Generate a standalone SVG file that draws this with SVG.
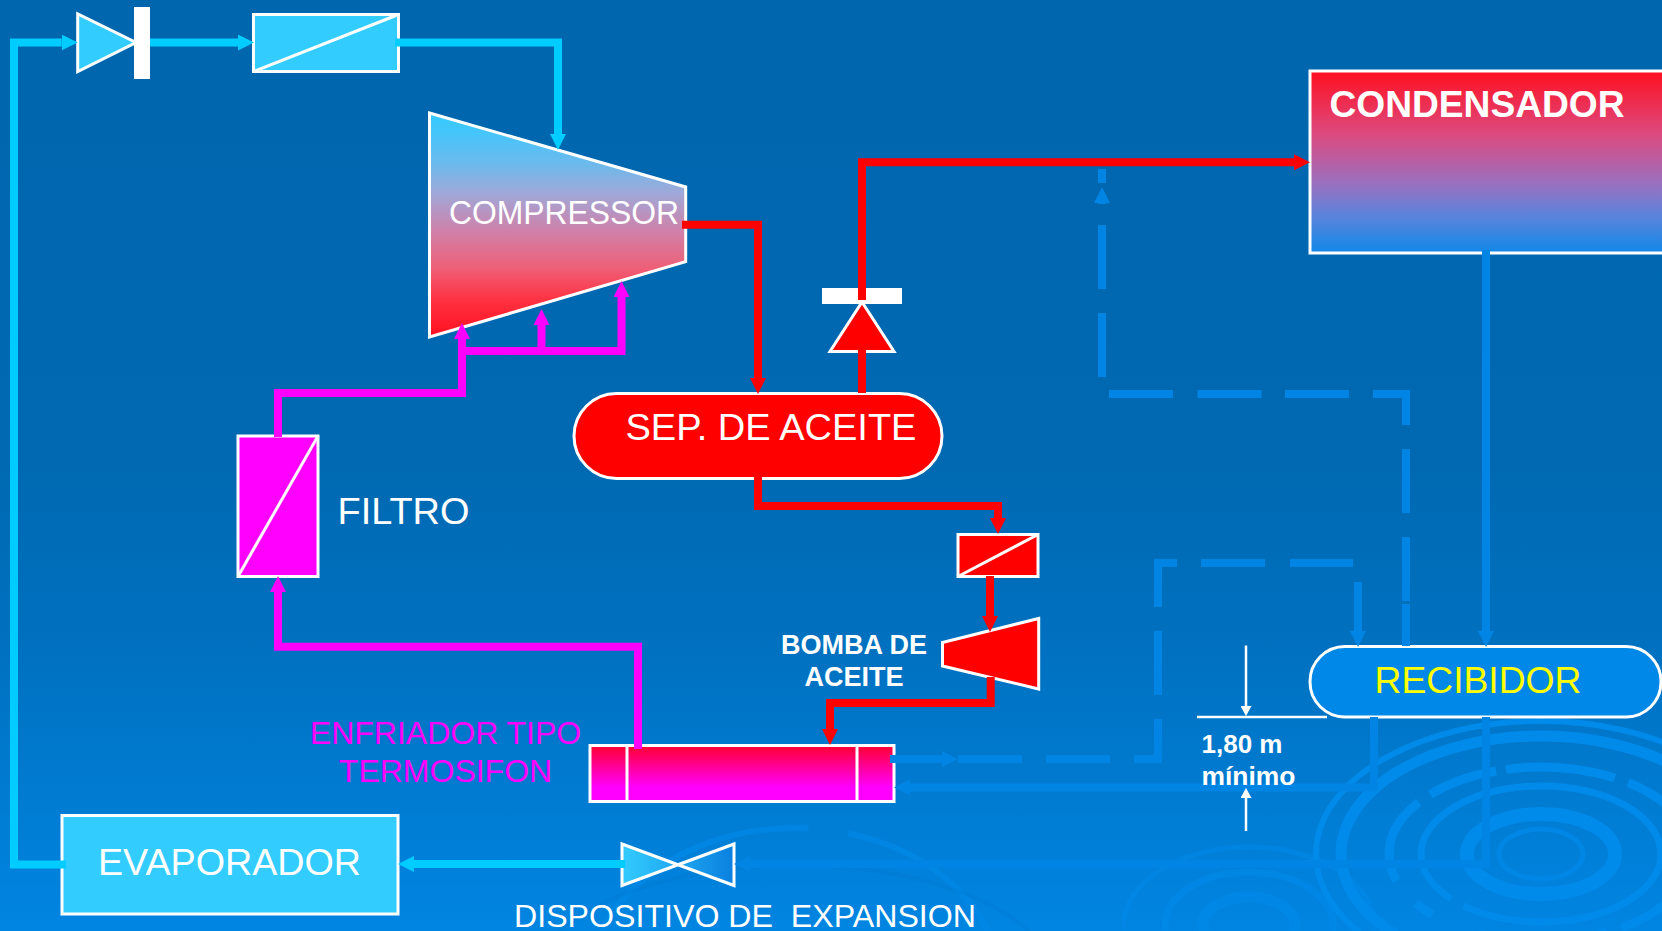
<svg xmlns="http://www.w3.org/2000/svg" width="1662" height="931" viewBox="0 0 1662 931">
<style>
text{font-family:"Liberation Sans",Arial,sans-serif;fill:#fff}
.b{font-weight:bold}
.n{stroke:#fff;stroke-width:3}
.bar{fill:#fff}
.p{fill:none;stroke-width:8;stroke-linejoin:miter}
.cy{stroke:#0cf}.rd{stroke:#f00}.mg{stroke:#f0f}.bl{stroke:#0085e5}
.cyf{fill:#3cf}
.r{fill:none;stroke:#008ae9}
.dim{fill:none;stroke:#fff;stroke-width:2.5}
</style>
<defs>
<linearGradient id="bg" x1="0" y1="0" x2="0" y2="1"><stop offset="0" stop-color="#0066ae"/><stop offset=".5" stop-color="#0069b2"/><stop offset=".7" stop-color="#0071c0"/><stop offset="1" stop-color="#0085e2"/></linearGradient>
<linearGradient id="gc" x1="0" y1="0" x2="0" y2="1"><stop offset="0" stop-color="#3cf"/><stop offset=".1" stop-color="#48c4fa"/><stop offset=".24" stop-color="#70b8ea"/><stop offset=".36" stop-color="#a0a8d8"/><stop offset=".53" stop-color="#d080a8"/><stop offset=".69" stop-color="#ee6078"/><stop offset=".84" stop-color="#ff3040"/><stop offset="1" stop-color="#ff1020"/></linearGradient>
<linearGradient id="gk" x1="0" y1="0" x2="0" y2="1"><stop offset="0" stop-color="#ff1020"/><stop offset=".35" stop-color="#dc4a80"/><stop offset=".62" stop-color="#9a70c0"/><stop offset=".8" stop-color="#5a84dc"/><stop offset="1" stop-color="#1088e8"/></linearGradient>
<linearGradient id="ge" x1="0" y1="0" x2="0" y2="1"><stop offset="0" stop-color="#ff0030"/><stop offset=".75" stop-color="#f0f"/><stop offset="1" stop-color="#f0f"/></linearGradient>
<linearGradient id="gv" x1="0" y1="0" x2="1" y2="0"><stop offset="0" stop-color="#3cf"/><stop offset="1" stop-color="#0a80e0"/></linearGradient>
<marker id="hc" markerUnits="userSpaceOnUse" markerWidth="16" markerHeight="16" refX="0" refY="8" orient="auto"><path d="M0 0L16 8L0 16z" fill="#0cf"/></marker>
<marker id="hr" markerUnits="userSpaceOnUse" markerWidth="16" markerHeight="16" refX="0" refY="8" orient="auto"><path d="M0 0L16 8L0 16z" fill="#f00"/></marker>
<marker id="hm" markerUnits="userSpaceOnUse" markerWidth="16" markerHeight="16" refX="0" refY="8" orient="auto"><path d="M0 0L16 8L0 16z" fill="#f0f"/></marker>
<marker id="hb" markerUnits="userSpaceOnUse" markerWidth="16" markerHeight="16" refX="0" refY="8" orient="auto"><path d="M0 0L16 8L0 16z" fill="#0085e5"/></marker>
<marker id="hw" markerUnits="userSpaceOnUse" markerWidth="10" markerHeight="11" refX="0" refY="5.5" orient="auto"><path d="M0 0L10 5.500L0 11z" fill="#fff"/></marker>
</defs>
<g id="background">
<rect width="1662" height="931" fill="url(#bg)"/>
<g id="ripples-right">
<ellipse class="r" cx="1541" cy="854" rx="74" ry="40" stroke-width="14"/>
<ellipse class="r" cx="1541" cy="854" rx="42" ry="25" stroke-width="5" opacity=".7"/>
<ellipse class="r" cx="1541" cy="854" rx="120" ry="68" stroke-width="7" stroke-dasharray="230 14 420 20 400 0"/>
<ellipse class="r" cx="1541" cy="854" rx="152" ry="87" stroke-width="9" stroke-dasharray="110 14 130 50 20 30 90 14 70 10"/>
<ellipse class="r" cx="1541" cy="854" rx="200" ry="118" stroke-width="11"/>
<ellipse class="r" cx="1541" cy="854" rx="225" ry="133" stroke-width="6"/>
</g>
<g id="ripples-mid" opacity=".7">
<ellipse class="r" cx="1249" cy="925" rx="46" ry="28" stroke-width="11"/>
<ellipse class="r" cx="1249" cy="925" rx="84" ry="53" stroke-width="7"/>
<ellipse class="r" cx="1249" cy="925" rx="125" ry="78" stroke-width="5" opacity=".8"/>
</g>
<g id="ripples-left" opacity=".65">
<ellipse class="r" cx="795" cy="985" rx="265" ry="175" stroke-width="5" stroke-dasharray="560 1300"/>
<ellipse class="r" cx="795" cy="985" rx="205" ry="157" stroke-width="6" stroke-dasharray="300 40 200 30"/>
<ellipse cx="795" cy="985" rx="262" ry="120" fill="none" stroke="#0078cf" stroke-width="4" opacity=".4"/>
</g>
</g>
<g id="check-valve-suction">
<path class="n cyf" d="M77.700 14V71.500L136 42.500z"/>
<rect class="bar" x="134" y="7" width="16" height="72"/>
</g>
<g id="filter-suction">
<rect class="n cyf" x="253.500" y="14.500" width="145" height="57"/>
<path class="n" d="M253.500 71.500L398.500 14.500"/>
</g>
<g id="compressor">
<path class="n" fill="url(#gc)" d="M429.500 113L685.700 187V261.700L429.500 337z"/>
<text x="449" y="224" font-size="33" textLength="230" lengthAdjust="spacingAndGlyphs">COMPRESSOR</text>
</g>
<g id="condensador">
<rect class="n" fill="url(#gk)" x="1310" y="71" width="356" height="182"/>
<text class="b" x="1329.500" y="116.500" font-size="37" textLength="295" lengthAdjust="spacingAndGlyphs">CONDENSADOR</text>
</g>
<g id="check-valve-discharge">
<path class="n" fill="#f00" d="M862 302L894 351.500H830z"/>
<rect class="bar" x="822" y="288" width="80" height="16"/>
</g>
<g id="separador">
<rect class="n" fill="#f00" x="574" y="393.500" width="368" height="85" rx="42.500"/>
<text x="625.500" y="439.500" font-size="37" textLength="291" lengthAdjust="spacingAndGlyphs">SEP. DE ACEITE</text>
</g>
<g id="filter-oil">
<rect class="n" fill="#f00" x="958" y="534.500" width="80" height="42"/>
<path class="n" d="M958 576.500L1038 534.500"/>
</g>
<g id="bomba">
<path class="n" fill="#f00" d="M942.500 642.500L1038.700 618.500V689L942.500 666z"/>
<text class="b" x="854" y="654" font-size="27" text-anchor="middle">BOMBA DE</text>
<text class="b" x="854" y="686" font-size="27" text-anchor="middle">ACEITE</text>
</g>
<g id="filtro">
<rect class="n" fill="#f0f" x="238" y="436" width="80" height="140.500"/>
<path class="n" d="M238 576.500L318 436"/>
<text x="337.500" y="523.500" font-size="37" textLength="132" lengthAdjust="spacingAndGlyphs">FILTRO</text>
</g>
<g id="enfriador">
<rect class="n" fill="url(#ge)" x="590" y="745.500" width="304" height="56"/>
<path class="n" d="M627 745.500V801.500M857 745.500V801.500"/>
<text x="445.500" y="744" font-size="32" text-anchor="middle" style="fill:#f0f">ENFRIADOR TIPO</text>
<text x="445.500" y="782" font-size="32" text-anchor="middle" style="fill:#f0f">TERMOSIFON</text>
</g>
<g id="evaporador">
<rect class="n cyf" x="62" y="815.500" width="336" height="98.500"/>
<text x="98" y="875" font-size="37" textLength="263" lengthAdjust="spacingAndGlyphs">EVAPORADOR</text>
</g>
<g id="dispositivo">
<path class="n" fill="url(#gv)" d="M622 844L734 885.500V844L622 885.500z"/>
<text x="514" y="927" font-size="31" xml:space="preserve" textLength="462" lengthAdjust="spacingAndGlyphs">DISPOSITIVO DE  EXPANSION</text>
</g>
<g id="recibidor">
<rect class="n" fill="#0088e8" x="1310" y="646.500" width="351" height="70.500" rx="35"/>
<text x="1374.500" y="693" font-size="37" textLength="207" lengthAdjust="spacingAndGlyphs" style="fill:#ff0">RECIBIDOR</text>
</g>
<g id="connectors">
<path class="p cy" marker-end="url(#hc)" d="M66 864.500H14V42.500H61.700"/>
<path class="p cy" marker-end="url(#hc)" d="M150 42.500H238"/>
<path class="p cy" marker-end="url(#hc)" d="M395 42.500H558V134"/>
<path class="p cy" marker-end="url(#hc)" d="M625 864H414"/>
<path class="p rd" marker-end="url(#hr)" d="M682 224.700H758V378"/>
<path class="p rd" d="M862 393V350"/>
<path class="p rd" marker-end="url(#hr)" d="M862 300V162.300H1294"/>
<path class="p rd" marker-end="url(#hr)" d="M758 477V506H998V518"/>
<path class="p rd" marker-end="url(#hr)" d="M990 576V616"/>
<path class="p rd" marker-end="url(#hr)" d="M990.700 677V703H830V729"/>
<path class="p mg" marker-end="url(#hm)" d="M638 749V646.700H278V592"/>
<path class="p mg" marker-end="url(#hm)" d="M278 437V393H462V339"/>
<path class="p mg" marker-end="url(#hm)" d="M462 351H621.500V297"/>
<path class="p mg" marker-end="url(#hm)" d="M541.500 351V325"/>
<path class="p bl" marker-end="url(#hb)" d="M1486 250V631"/>
<path class="p bl" d="M1406 646V604M1406 601V537M1406 513V449M1406 425V394H1373M1349 394H1285M1261.500 394H1197.500M1173 394H1109M1102 377V313M1102 289V225M1102 183V169"/>
<path class="p bl" marker-end="url(#hb)" d="M1102 204V203"/>
<path class="p bl" marker-end="url(#hb)" d="M890 759H942"/>
<path class="p bl" d="M958 759H1022M1046 759H1110M1134 759H1158V719M1158 695V631M1158 607V563H1177M1201 563H1265M1290 563H1353"/>
<path class="p bl" marker-end="url(#hb)" d="M1358 582V631"/>
<path class="p bl" marker-end="url(#hb)" d="M1374 717V787.500H910"/>
<path class="p bl" marker-end="url(#hb)" d="M1486 717V864H750"/>
</g>
<g id="dimension">
<path d="M1197 717H1327" stroke="#fff" stroke-width="2.500" fill="none"/>
<path class="dim" marker-end="url(#hw)" d="M1246 645.500V706"/>
<path class="dim" marker-end="url(#hw)" d="M1246 831V798"/>
<text class="b" x="1201.500" y="753" font-size="26" textLength="81" lengthAdjust="spacingAndGlyphs">1,80 m</text>
<text class="b" x="1201.500" y="785" font-size="26" textLength="94" lengthAdjust="spacingAndGlyphs">mínimo</text>
</g>
</svg>
